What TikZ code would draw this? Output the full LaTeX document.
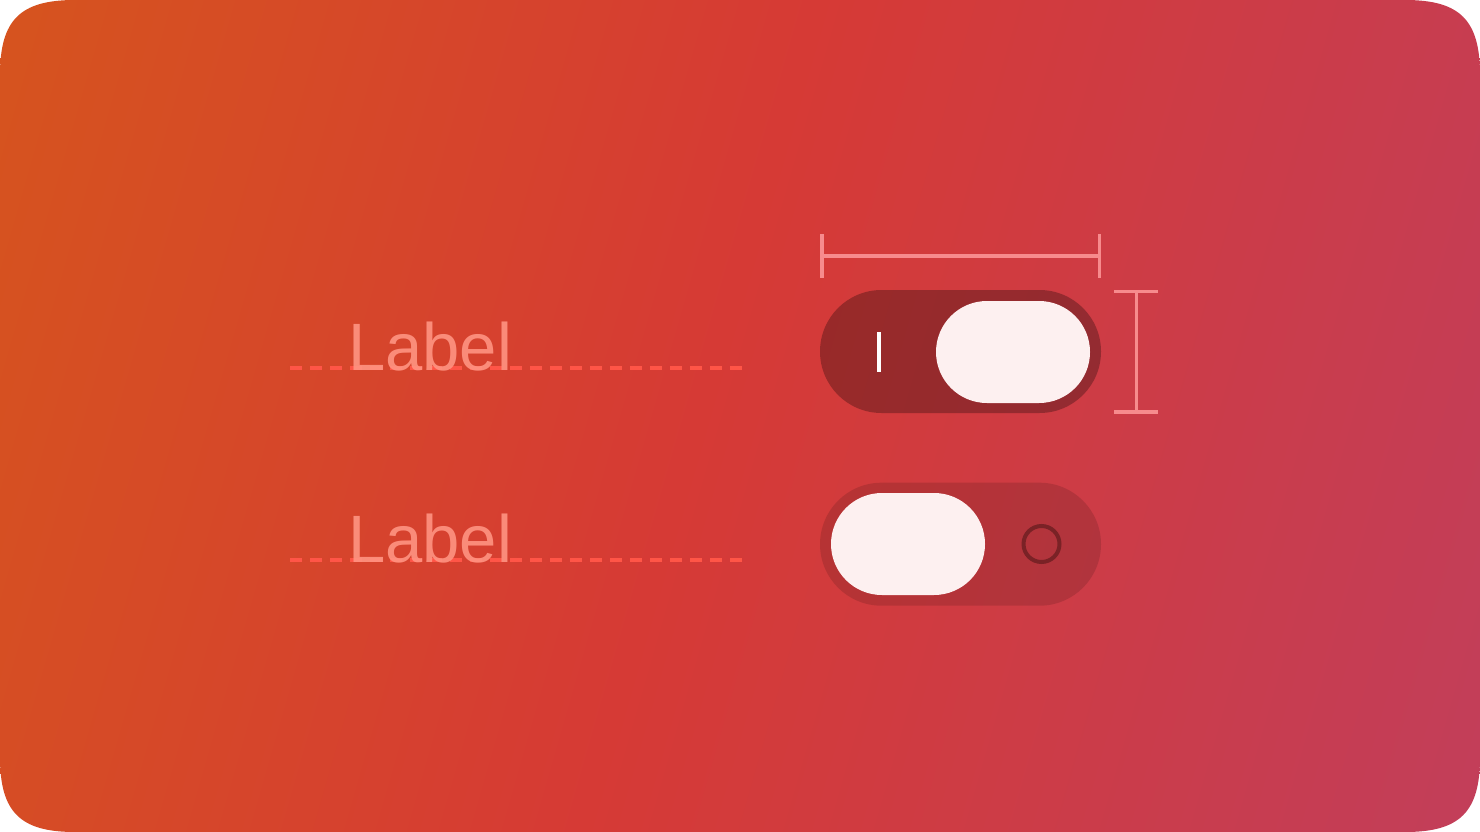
\documentclass[tikz,border=0pt]{standalone}
\usepackage{fontspec}
\setmainfont{Liberation Sans}
\usetikzlibrary{shapes.misc,calc}

\definecolor{bgOrange}{HTML}{D6541E}
\definecolor{bgRed}{HTML}{D63A35}
\definecolor{bgPink}{HTML}{C23E5A}
\definecolor{knobColor}{HTML}{FDF0F0}
\definecolor{ringColor}{HTML}{7A2226}
\definecolor{dimColor}{HTML}{F78B8D}
\definecolor{baseColor}{HTML}{FF5547}
\definecolor{labelColor}{HTML}{FF9482}

\pgfdeclarehorizontalshading{bgShade}{100bp}{color(0bp)=(bgOrange); color(19bp)=(bgOrange); color(48.5bp)=(bgRed); color(81bp)=(bgPink); color(100bp)=(bgPink)}

\tikzset{
  track/.style={rounded rectangle, inner sep=0pt, minimum width=281pt, minimum height=123pt, fill=black},
  knob/.style={rounded rectangle, inner sep=0pt, minimum width=154pt, minimum height=102pt, fill=knobColor},
  labelText/.style={inner sep=0pt, anchor=base west, text=labelColor, text opacity=.9, font=\fontsize{67pt}{80pt}\selectfont},
  baseLine/.style={baseColor, line width=4pt, dash pattern=on 12pt off 8pt},
  dimLine/.style={dimColor, line width=3.5pt}
}

\begin{document}
\begin{tikzpicture}[x=1pt,y=-1pt]
    \useasboundingbox (0,0) rectangle (1480,832);
    \def\showBackground{
      \fill[white] (0,0) rectangle (1480,832);
      \shade[shading=bgShade, shading angle=-16]
        (0,75) .. controls (0,20) and (20,0) .. (75,0) -- (1405,0)
        .. controls (1460,0) and (1480,20) .. (1480,75) -- (1480,757)
        .. controls (1480,812) and (1460,832) .. (1405,832) -- (75,832)
        .. controls (20,832) and (0,812) .. (0,757) -- cycle;
    }
    \def\showLabels{
      % Dashed baselines, then the texts
      \foreach \n/\y in {On/367.7,Off/560} {
        \coordinate (base\n L) at (290,\y);
        \coordinate (base\n R) at (742,\y);
        \draw[baseLine] (base\n L) -- (base\n R);
      }
      \node[labelText] (labelOn) at (348,370.5) {Label};
      \node[labelText] (labelOff) at (348,562.8) {Label};
    }
    \def\showToggles{
      % Switch that is on
      \node[track, fill opacity=.28] (trackOn) at (960.5,351.5) {};
      \node[knob] (knobOn) at (1013,352) {};
      \coordinate (barTop) at (879,332);
      \coordinate (barBottom) at (879,372);
      \draw[white, line width=4.5pt] (barTop) -- (barBottom);
      % Switch that is off
      \node[track, fill opacity=.13] (trackOff) at (960.5,544.2) {};
      \node[knob] (knobOff) at (908,544) {};
      \node[circle, draw=ringColor, line width=4pt, inner sep=0pt, minimum size=36pt] (ringOff) at (1041.5,544) {};
    }
    \def\showDimensions{
      % Width of the track
      \coordinate (wL) at (822,256);
      \coordinate (wR) at (1099.7,256);
      \draw[dimLine] (wL) -- (wR);
      \foreach \c in {wL,wR}
        \draw[dimLine] ($(\c)+(0,-22)$) -- ($(\c)+(0,22)$);
      % Height of the track
      \coordinate (hT) at (1136.3,291.7);
      \coordinate (hB) at (1136.3,412);
      \draw[dimLine] (hT) -- (hB);
      \foreach \c in {hT,hB}
        \draw[dimLine] ($(\c)+(-22,0)$) -- ($(\c)+(22,0)$);
    }
    \showBackground
    \showLabels
    \showToggles
    \showDimensions
\end{tikzpicture}
\end{document}
